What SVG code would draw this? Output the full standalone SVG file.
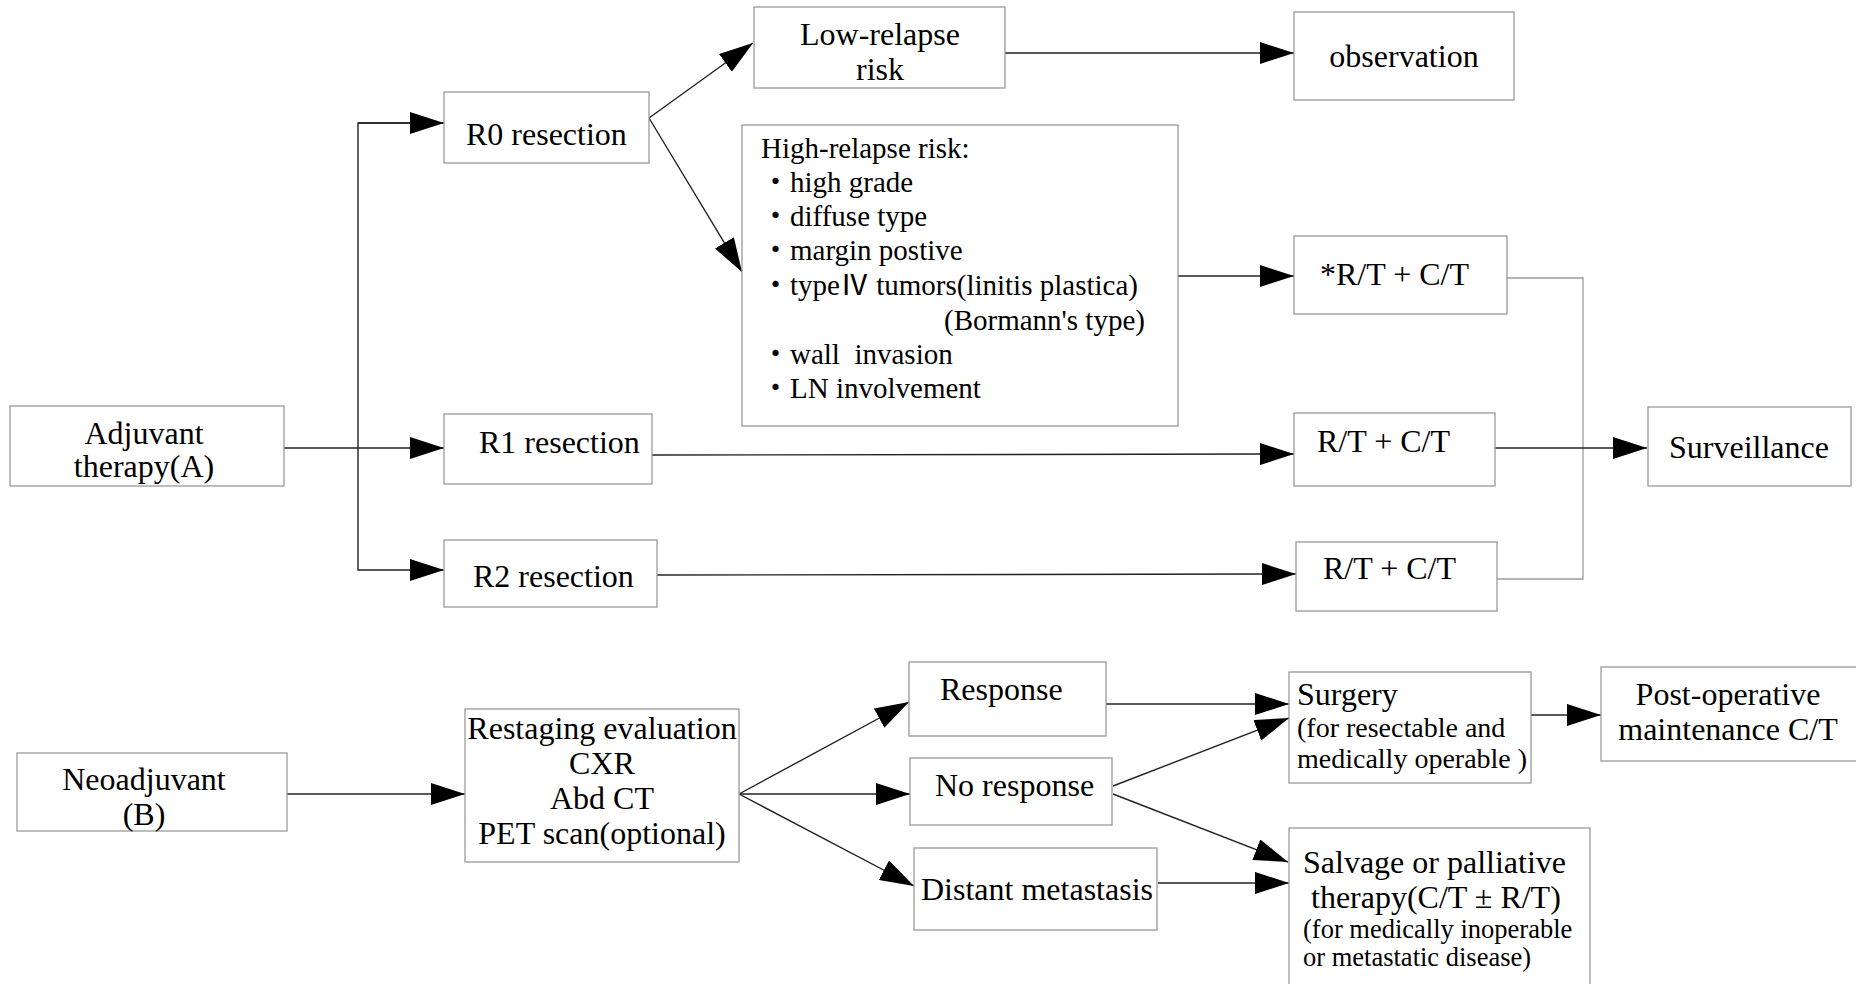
<svg xmlns="http://www.w3.org/2000/svg" width="1856" height="984" viewBox="0 0 1856 984">
<style>
.box{fill:#fff;stroke:#9a9a9a;stroke-width:1.3}
text{font-family:"Liberation Serif","Noto Sans CJK JP",serif;fill:#000;font-size:32px}
.m{text-anchor:middle}
.s29{font-size:29px}
.s28{font-size:28px}
.s26{font-size:26.5px}
.c{fill:none;stroke:#222;stroke-width:1.4}
.g{fill:none;stroke:#9a9a9a;stroke-width:1.3}
</style>
<defs>
<marker id="ah" markerUnits="userSpaceOnUse" markerWidth="34" markerHeight="22" refX="34" refY="11" orient="auto">
<path d="M0,0 L34,11 L0,22 z" fill="#000"/>
</marker>
</defs>
<g id="connectors">
<line class="c" x1="284" y1="448" x2="444" y2="448" marker-end="url(#ah)"/>
<polyline class="c" points="444,123 358,123 358,570 444,570" marker-end="url(#ah)"/>
<line class="c" x1="358" y1="123" x2="444" y2="123" marker-end="url(#ah)"/>
<line class="c" x1="649" y1="118" x2="753" y2="43" marker-end="url(#ah)"/>
<line class="c" x1="649" y1="118" x2="742" y2="272" marker-end="url(#ah)"/>
<line class="c" x1="1005" y1="53" x2="1294" y2="53" marker-end="url(#ah)"/>
<line class="c" x1="1178" y1="276" x2="1294" y2="276" marker-end="url(#ah)"/>
<line class="c" x1="652" y1="455" x2="1294" y2="454" marker-end="url(#ah)"/>
<line class="c" x1="657" y1="575" x2="1296" y2="574" marker-end="url(#ah)"/>
<polyline class="g" points="1507,278 1583,278 1583,579 1497,579"/>
<line class="c" x1="1495" y1="448" x2="1647" y2="448" marker-end="url(#ah)"/>
<line class="c" x1="287" y1="794" x2="465" y2="794" marker-end="url(#ah)"/>
<line class="c" x1="739" y1="794" x2="909" y2="702" marker-end="url(#ah)"/>
<line class="c" x1="739" y1="794" x2="910" y2="794" marker-end="url(#ah)"/>
<line class="c" x1="739" y1="794" x2="914" y2="886" marker-end="url(#ah)"/>
<line class="c" x1="1106" y1="704" x2="1289" y2="704" marker-end="url(#ah)"/>
<line class="c" x1="1113" y1="786" x2="1289" y2="718" marker-end="url(#ah)"/>
<line class="c" x1="1113" y1="794" x2="1288" y2="862" marker-end="url(#ah)"/>
<line class="c" x1="1158" y1="883" x2="1289" y2="883" marker-end="url(#ah)"/>
<line class="c" x1="1531" y1="715" x2="1601" y2="715" marker-end="url(#ah)"/>
</g>
<g id="adjuvant">
<rect class="box" x="10" y="406" width="274" height="80"/>
<text class="m" x="144" y="444">Adjuvant</text>
<text class="m" x="144" y="477">therapy(A)</text>
</g>
<g id="r0">
<rect class="box" x="444" y="92" width="205" height="71"/>
<text x="466" y="145">R0 resection</text>
</g>
<g id="r1">
<rect class="box" x="444" y="414" width="208" height="70"/>
<text x="479" y="453">R1 resection</text>
</g>
<g id="r2">
<rect class="box" x="444" y="540" width="213" height="67"/>
<text x="473" y="587">R2 resection</text>
</g>
<g id="low-relapse">
<rect class="box" x="754" y="7" width="251" height="81"/>
<text class="m" x="880" y="45">Low-relapse</text>
<text class="m" x="880" y="80">risk</text>
</g>
<g id="observation">
<rect class="box" x="1294" y="12" width="220" height="88"/>
<text class="m" x="1404" y="67">observation</text>
</g>
<g id="high-relapse">
<rect class="box" x="742" y="125" width="436" height="301"/>
<text class="s29" x="761" y="158">High-relapse risk:</text>
<text class="s29" x="761" y="192">・high grade</text>
<text class="s29" x="761" y="226">・diffuse type</text>
<text class="s29" x="761" y="260">・margin postive</text>
<text class="s29" x="761" y="295">・typeⅣ tumors(linitis plastica)</text>
<text class="s29" x="944" y="330">(Bormann's type)</text>
<text class="s29" x="761" y="364" xml:space="preserve">・wall  invasion</text>
<text class="s29" x="761" y="398">・LN involvement</text>
</g>
<g id="rtct-star">
<rect class="box" x="1294" y="236" width="213" height="78"/>
<text x="1320" y="285">*R/T + C/T</text>
</g>
<g id="rtct-r1">
<rect class="box" x="1294" y="413" width="201" height="73"/>
<text x="1317" y="452">R/T + C/T</text>
</g>
<g id="rtct-r2">
<rect class="box" x="1296" y="542" width="201" height="69"/>
<text x="1323" y="579">R/T + C/T</text>
</g>
<g id="surveillance">
<rect class="box" x="1648" y="407" width="203" height="79"/>
<text x="1669" y="458">Surveillance</text>
</g>
<g id="neoadjuvant">
<rect class="box" x="17" y="753" width="270" height="78"/>
<text class="m" x="144" y="790">Neoadjuvant</text>
<text class="m" x="144" y="825">(B)</text>
</g>
<g id="restaging">
<rect class="box" x="465" y="709" width="274" height="153"/>
<text class="m" x="602" y="739">Restaging evaluation</text>
<text class="m" x="602" y="774">CXR</text>
<text class="m" x="602" y="809">Abd CT</text>
<text class="m" x="602" y="844">PET scan(optional)</text>
</g>
<g id="response">
<rect class="box" x="909" y="662" width="197" height="74"/>
<text x="940" y="700">Response</text>
</g>
<g id="no-response">
<rect class="box" x="910" y="758" width="202" height="67"/>
<text x="935" y="796">No response</text>
</g>
<g id="distant">
<rect class="box" x="914" y="848" width="243" height="82"/>
<text x="921" y="900">Distant metastasis</text>
</g>
<g id="surgery">
<rect class="box" x="1289" y="672" width="242" height="111"/>
<text x="1297" y="705">Surgery</text>
<text class="s28" x="1297" y="737">(for resectable and</text>
<text class="s28" x="1297" y="768">medically operable )</text>
</g>
<g id="postop">
<rect class="box" x="1601" y="667" width="260" height="94"/>
<text class="m" x="1728" y="705">Post-operative</text>
<text class="m" x="1728" y="740">maintenance C/T</text>
</g>
<g id="salvage">
<rect class="box" x="1289" y="828" width="301" height="170"/>
<text x="1303" y="873">Salvage or palliative</text>
<text x="1311" y="908">therapy(C/T ± R/T)</text>
<text class="s26" x="1303" y="938">(for medically inoperable</text>
<text class="s26" x="1303" y="966">or metastatic disease)</text>
</g>
</svg>
